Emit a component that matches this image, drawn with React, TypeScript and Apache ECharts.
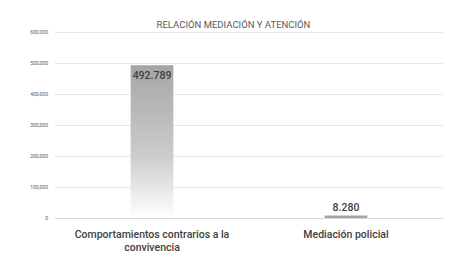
import React, { useEffect, useRef } from "react";
import * as echarts from "echarts";

const categories = ["Comportamientos contrarios a la\nconvivencia", "Mediación policial"];
const values = [492789, 8280];
const valueLabels = ["492.789", "8.280"];
const yTicks = [0, 100000, 200000, 300000, 400000, 500000, 600000];

const fmt = (v: number) => (v === 0 ? "0" : v.toLocaleString("en-US"));

export default function App() {
  const ref = useRef<HTMLDivElement>(null);
  useEffect(() => {
    if (!ref.current) return;
    const chart = echarts.init(ref.current, null, { renderer: "svg" });
    const grad = new echarts.graphic.LinearGradient(0, 0, 0, 1, [
      { offset: 0, color: "#a5a5a5" },
      { offset: 0.6, color: "#cdcdcd" },
      { offset: 1, color: "#ffffff" },
    ]);
    chart.setOption({
      animation: false,
      backgroundColor: "#ffffff",
      title: {
        text: "RELACIÓN MEDIACIÓN Y ATENCIÓN",
        left: "center",
        top: 14,
        textStyle: {
          fontFamily: "Roboto, sans-serif",
          fontSize: 9.5,
          fontWeight: "normal",
          color: "#595959",
        },
      },
      grid: { left: 55, right: 24, top: 32, bottom: 39 },
      xAxis: {
        type: "category",
        data: categories,
        axisLine: { show: true, lineStyle: { color: "#d9d9d9" } },
        axisTick: { show: false },
        axisLabel: {
          interval: 0,
          margin: 10,
          fontFamily: "Roboto, sans-serif",
          fontSize: 10.5,
          fontWeight: 500,
          color: "#404040",
          lineHeight: 13,
        },
      },
      yAxis: {
        type: "value",
        min: 0,
        max: yTicks[yTicks.length - 1],
        interval: 100000,
        axisLine: { show: false },
        axisTick: { show: false },
        splitLine: { lineStyle: { color: "#e6e6e6", width: 1 } },
        axisLabel: {
          formatter: (v: number) => fmt(v),
          fontFamily: "Roboto, sans-serif",
          fontSize: 5,
          color: "#595959",
          margin: 7,
        },
      },
      series: [
        {
          type: "bar",
          barWidth: "22%",
          data: values.map((v, i) => ({
            value: v,
            label: {
              show: true,
              position: i === 0 ? "insideTop" : "top",
              distance: i === 0 ? 5 : 2,
              formatter: () => valueLabels[i],
              fontFamily: "Roboto, sans-serif",
              fontSize: 10.5,
              fontWeight: 500,
              color: "#404040",
            },
            itemStyle: {
              color: i === 0 ? grad : "#a5a5a5",
            },
          })),
        },
      ],
    });
    return () => chart.dispose();
  }, []);
  return <div ref={ref} style={{ width: 467, height: 257, position: "absolute", left: 0, top: 0 }} />;
}
